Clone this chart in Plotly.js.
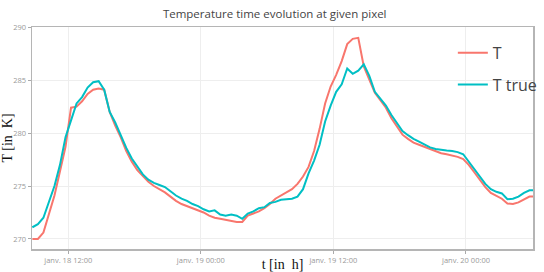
<!DOCTYPE html>
<html>
<head>
<meta charset="utf-8">
<script src="https://cdn.plot.ly/plotly-3.0.1.min.js"></script>
<style>html,body{margin:0;padding:0;background:#fff;}#chart{width:544px;height:272px;}</style>
</head>
<body>
<div id="chart"></div>
<script>
// half-hourly samples starting 2021-01-18 08:45
const startTime = "2021-01-18T08:45:00";
const stepMinutes = 30;

const tModel = [
  270.0, 270.0, 270.6, 272.3, 274.1, 276.4, 278.7, 282.4, 282.5, 283.0,
  283.7, 284.1, 284.2, 284.1, 282.0, 280.7, 279.6, 278.3, 277.3, 276.5,
  275.9, 275.4, 275.0, 274.7, 274.4, 274.0, 273.6, 273.3, 273.1, 272.9,
  272.7, 272.5, 272.2, 272.0, 271.9, 271.8, 271.7, 271.6, 271.6, 272.2,
  272.4, 272.6, 272.9, 273.3, 273.8, 274.1, 274.35, 274.7, 275.2, 275.9,
  276.8, 278.3, 280.4, 282.8, 284.4, 285.5, 286.8, 288.4, 288.9, 289.0,
  286.3, 285.0, 283.8, 283.1, 282.4, 281.4, 280.6, 279.85, 279.45, 279.1,
  278.9, 278.7, 278.45, 278.25, 278.1, 278.0, 277.9, 277.75, 277.55, 277.0,
  276.3, 275.6, 274.9, 274.35, 274.05, 273.8, 273.35, 273.3, 273.45, 273.75,
  274.0, 274.0
];

const tTrue = [
  271.1, 271.4, 272.0, 273.6, 275.0, 277.0, 279.6, 281.2, 282.8, 283.4,
  284.3, 284.8, 284.9, 284.1, 282.0, 281.0, 279.8, 278.6, 277.6, 276.9,
  276.1, 275.6, 275.3, 275.1, 274.9, 274.5, 274.1, 273.8, 273.6, 273.3,
  273.1, 272.8, 272.6, 272.7, 272.3, 272.2, 272.3, 272.2, 271.9, 272.4,
  272.6, 272.9, 273.0, 273.4, 273.5, 273.7, 273.75, 273.8, 274.0, 274.7,
  276.2, 277.4, 278.9, 281.1, 282.6, 283.9, 284.6, 286.1, 285.6, 285.9,
  286.5, 285.4, 283.9, 283.2, 282.6, 281.7, 280.9, 280.2, 279.8, 279.45,
  279.2, 278.95, 278.65, 278.5, 278.4, 278.35, 278.3, 278.2, 278.0, 277.3,
  276.7, 275.9, 275.2, 274.7, 274.45, 274.3, 273.75, 273.8, 274.0, 274.35,
  274.6, 274.6
];

const xTickVals = ["2021-01-18 12:00", "2021-01-19 00:00", "2021-01-19 12:00", "2021-01-20 00:00"];
const xTickText = ["janv. 18 12:00", "janv. 19 00:00", "janv. 19 12:00", "janv. 20 00:00"];
const yTickVals = [270, 275, 280, 285, 290];

function pad(n){return (n<10?"0":"")+n;}
function fmt(d){return d.getFullYear()+"-"+pad(d.getMonth()+1)+"-"+pad(d.getDate())+" "+pad(d.getHours())+":"+pad(d.getMinutes());}
const t0 = new Date(startTime);
const times = tModel.map((_, i) => fmt(new Date(t0.getTime() + i*stepMinutes*60000)));

const traces = [
  {x: times, y: tModel, type: "scatter", mode: "lines", name: "T", legendgroup: "a",
   line: {color: "#F8766D", width: 2}},
  {x: times, y: tTrue, type: "scatter", mode: "lines", name: "T true", legendgroup: "b",
   line: {color: "#00BFC4", width: 2}}
];

const layout = {
  width: 544, height: 272,
  margin: {l: 32, r: 1, t: 27, b: 23, pad: 0},
  paper_bgcolor: "#fff", plot_bgcolor: "#fff",
  title: {text: "Temperature time evolution at given pixel", x: 0.505, xanchor: "center", y: 0.95, yanchor: "middle",
          font: {family: "Open Sans", size: 11.5, color: "#444"}},
  xaxis: {
    type: "date", range: ["2021-01-18 08:43", "2021-01-20 06:04"],
    tickvals: xTickVals, ticktext: xTickText,
    tickfont: {family: "Open Sans", size: 7.5, color: "#999"},
    ticks: "outside", ticklen: 3, tickcolor: "#aaa",
    showgrid: true, gridcolor: "#eeeeee", gridwidth: 1,
    showline: true, linecolor: "#b5b5b5", linewidth: 1.5, mirror: true,
    zeroline: false, automargin: false,
    title: {text: "t [in  h]", font: {family: "Liberation Serif", size: 14, color: "#111"}, standoff: 0}
  },
  yaxis: {
    range: [269.05, 290.02],
    tickvals: yTickVals,
    tickfont: {family: "Open Sans", size: 7.5, color: "#999"},
    ticks: "outside", ticklen: 3, tickcolor: "#aaa",
    showgrid: true, gridcolor: "#eeeeee", gridwidth: 1,
    showline: true, linecolor: "#b5b5b5", linewidth: 1.5, mirror: true,
    zeroline: false, automargin: false,
    title: {text: "T [in  K]", font: {family: "Liberation Serif", size: 14, color: "#111"}, standoff: 0}
  },
  legend: {x: 0.84, y: 0.96, xanchor: "left", yanchor: "top", bgcolor: "rgba(255,255,255,0)",
           font: {family: "Open Sans", size: 16, color: "#444"}, traceorder: "grouped", tracegroupgap: 8},
  showlegend: true
};

Plotly.newPlot("chart", traces, layout, {displayModeBar: false, staticPlot: true});
</script>
</body>
</html>
